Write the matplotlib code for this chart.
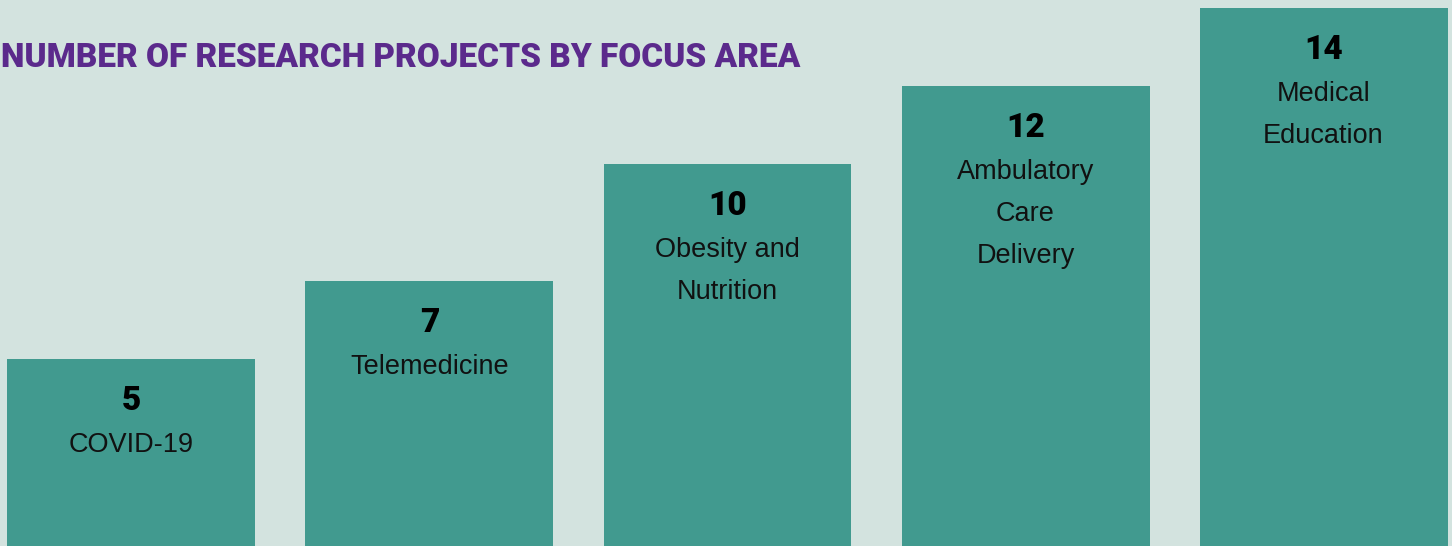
import matplotlib.pyplot as plt

categories = ["COVID-19", "Telemedicine", "Obesity and\nNutrition",
              "Ambulatory\nCare\nDelivery", "Medical\nEducation"]
values = [5, 7, 10, 12, 14]
title = "NUMBER OF RESEARCH PROJECTS BY FOCUS AREA"

bg = "#d3e3df"
bar_color = "#419a8f"
purple = "#5b2a8c"

fig = plt.figure(figsize=(14.52, 5.46), dpi=100, facecolor=bg)
ax = fig.add_axes([0, 0, 1, 1])
ax.set_facecolor(bg)

x = list(range(len(values)))
ax.bar(x, values, width=0.832, color=bar_color)
ax.set_xlim(-0.441, 4.431)
ax.set_ylim(0.205, 14.205)
ax.axis("off")

# px -> pt at 100 dpi
pt = 72 / 100
for xi, v, lab in zip(x, values, categories):
    ax.annotate(str(v), (xi, v), xytext=(0, -51 * pt), textcoords="offset points",
                ha="center", va="baseline", fontsize=24, fontweight="black",
                family="Roboto", color="black")
    for k, line in enumerate(lab.split("\n")):
        ax.annotate(line, (xi, v), xytext=(0, -(93 + 42 * k) * pt),
                    textcoords="offset points", ha="center", va="baseline",
                    fontsize=19.5, family="Liberation Sans", color="#111111")

t = fig.text(0.001, 1 - 67 / 546, title, ha="left", va="baseline", fontsize=24,
             fontweight="black", family="Roboto", color=purple)

fig.savefig("out.png", dpi=100, facecolor=bg)
